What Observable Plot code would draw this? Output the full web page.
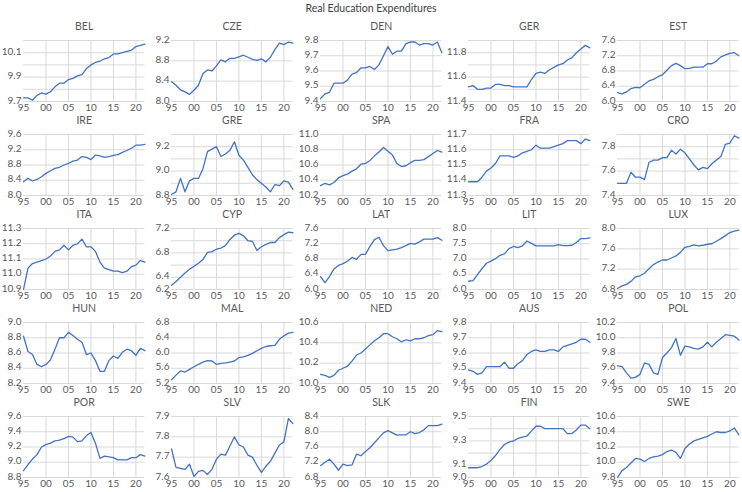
<!DOCTYPE html>
<html>
<head>
<meta charset="utf-8">
<script src="https://cdn.jsdelivr.net/npm/d3@7"></script>
<script src="https://cdn.jsdelivr.net/npm/@observablehq/plot@0.6"></script>
<style>
  body { margin: 0; background: #fff; font-family: Lato, "Open Sans", sans-serif; }
  #wrap { width: 742px; }
  h1 { margin: 0; height: 17px; line-height: 16px; font-size: 10.5px; font-weight: normal; text-align: center; color: #404040; }
  #grid { display: grid; grid-template-columns: repeat(5, 148.4px); }
  #grid svg { display: block; }
</style>
</head>
<body>
<div id="wrap">
  <h1>Real Education Expenditures</h1>
  <div id="grid"></div>
</div>
<script>
// Years on the horizontal axis
const years = [1995, 1996, 1997, 1998, 1999, 2000, 2001, 2002, 2003, 2004, 2005, 2006, 2007, 2008, 2009,
               2010, 2011, 2012, 2013, 2014, 2015, 2016, 2017, 2018, 2019, 2020, 2021, 2022];
const xTickYears = [1995, 2000, 2005, 2010, 2015, 2020];
const xGridYears = [2000, 2005, 2010, 2015, 2020];

// Country panels, in reading order
const codes = ["BEL", "CZE", "DEN", "GER", "EST",
               "IRE", "GRE", "SPA", "FRA", "CRO",
               "ITA", "CYP", "LAT", "LIT", "LUX",
               "HUN", "MAL", "NED", "AUS", "POL",
               "POR", "SLV", "SLK", "FIN", "SWE"];

// Log real education expenditure, 1995-2022
const bel = [9.73, 9.73, 9.71, 9.75, 9.77, 9.76, 9.78, 9.82, 9.85, 9.85, 9.88, 9.89, 9.91, 9.92, 9.97, 10.0, 10.02, 10.03, 10.05, 10.06, 10.09, 10.09, 10.10, 10.11, 10.12, 10.15, 10.16, 10.17];
const cze = [8.39, 8.32, 8.23, 8.19, 8.14, 8.22, 8.32, 8.55, 8.62, 8.60, 8.70, 8.82, 8.78, 8.85, 8.85, 8.88, 8.91, 8.87, 8.83, 8.81, 8.84, 8.78, 8.87, 9.02, 9.15, 9.12, 9.17, 9.15];
const den = [9.42, 9.45, 9.46, 9.52, 9.52, 9.52, 9.54, 9.58, 9.59, 9.62, 9.62, 9.63, 9.61, 9.64, 9.70, 9.76, 9.71, 9.73, 9.73, 9.78, 9.79, 9.79, 9.77, 9.78, 9.78, 9.77, 9.79, 9.72];
const ger = [11.52, 11.53, 11.50, 11.50, 11.51, 11.51, 11.54, 11.54, 11.53, 11.53, 11.52, 11.52, 11.52, 11.52, 11.58, 11.63, 11.64, 11.63, 11.66, 11.68, 11.70, 11.71, 11.74, 11.76, 11.80, 11.83, 11.86, 11.84];
const est = [6.23, 6.20, 6.25, 6.34, 6.37, 6.36, 6.45, 6.54, 6.58, 6.65, 6.70, 6.82, 6.94, 7.00, 6.94, 6.86, 6.87, 6.90, 6.90, 6.90, 6.99, 6.99, 7.06, 7.17, 7.22, 7.26, 7.28, 7.20];
const ire = [8.36, 8.45, 8.38, 8.42, 8.49, 8.58, 8.65, 8.71, 8.74, 8.80, 8.84, 8.90, 8.93, 9.02, 9.00, 8.94, 9.06, 9.04, 9.00, 9.02, 9.05, 9.07, 9.13, 9.18, 9.24, 9.32, 9.32, 9.34];
const gre = [8.81, 8.83, 8.94, 8.83, 8.92, 8.94, 8.94, 9.02, 9.16, 9.18, 9.20, 9.12, 9.14, 9.17, 9.24, 9.13, 9.09, 9.03, 8.97, 8.93, 8.90, 8.87, 8.83, 8.89, 8.88, 8.92, 8.91, 8.85];
const spa = [10.33, 10.36, 10.34, 10.37, 10.43, 10.46, 10.48, 10.52, 10.55, 10.61, 10.62, 10.66, 10.72, 10.77, 10.83, 10.78, 10.73, 10.62, 10.58, 10.59, 10.63, 10.66, 10.66, 10.67, 10.71, 10.75, 10.79, 10.77];
const fra = [11.39, 11.39, 11.39, 11.42, 11.46, 11.48, 11.51, 11.56, 11.56, 11.56, 11.55, 11.56, 11.58, 11.59, 11.60, 11.63, 11.61, 11.61, 11.61, 11.62, 11.63, 11.64, 11.66, 11.66, 11.66, 11.64, 11.67, 11.66];
const cro = [7.50, 7.50, 7.50, 7.59, 7.55, 7.55, 7.53, 7.67, 7.69, 7.69, 7.71, 7.71, 7.77, 7.74, 7.78, 7.75, 7.70, 7.65, 7.61, 7.63, 7.62, 7.66, 7.69, 7.72, 7.82, 7.83, 7.89, 7.87];
const ita = [10.90, 11.04, 11.07, 11.08, 11.09, 11.10, 11.12, 11.15, 11.16, 11.19, 11.16, 11.19, 11.20, 11.23, 11.18, 11.18, 11.15, 11.08, 11.04, 11.03, 11.02, 11.02, 11.01, 11.02, 11.05, 11.06, 11.09, 11.08];
const cyp = [6.27, 6.33, 6.40, 6.47, 6.53, 6.58, 6.63, 6.69, 6.81, 6.82, 6.86, 6.88, 6.92, 7.02, 7.09, 7.12, 7.08, 7.00, 6.99, 6.84, 6.90, 6.94, 6.97, 6.97, 7.05, 7.10, 7.14, 7.13];
const lat = [6.34, 6.18, 6.34, 6.54, 6.63, 6.68, 6.74, 6.84, 6.79, 6.92, 6.92, 7.13, 7.31, 7.37, 7.15, 7.02, 7.04, 7.06, 7.10, 7.15, 7.21, 7.19, 7.25, 7.32, 7.32, 7.32, 7.36, 7.29];
const lit = [6.27, 6.29, 6.49, 6.68, 6.86, 6.93, 7.01, 7.12, 7.17, 7.34, 7.41, 7.37, 7.43, 7.59, 7.51, 7.43, 7.43, 7.43, 7.43, 7.43, 7.47, 7.44, 7.44, 7.45, 7.54, 7.67, 7.67, 7.69];
const lux = [6.82, 6.87, 6.90, 6.96, 7.05, 7.07, 7.12, 7.21, 7.29, 7.34, 7.38, 7.38, 7.42, 7.46, 7.53, 7.63, 7.65, 7.68, 7.66, 7.67, 7.69, 7.70, 7.75, 7.80, 7.86, 7.92, 7.95, 7.97];
const hun = [8.82, 8.62, 8.58, 8.45, 8.42, 8.45, 8.51, 8.65, 8.80, 8.80, 8.87, 8.83, 8.78, 8.74, 8.58, 8.60, 8.50, 8.36, 8.36, 8.50, 8.56, 8.53, 8.61, 8.65, 8.63, 8.57, 8.66, 8.63];
const mal = [5.30, 5.42, 5.53, 5.50, 5.57, 5.64, 5.70, 5.76, 5.80, 5.79, 5.70, 5.73, 5.74, 5.76, 5.79, 5.88, 5.90, 5.94, 5.99, 6.06, 6.12, 6.17, 6.19, 6.20, 6.36, 6.45, 6.52, 6.54];
const ned = [10.09, 10.08, 10.06, 10.08, 10.13, 10.15, 10.17, 10.22, 10.28, 10.30, 10.34, 10.38, 10.42, 10.45, 10.49, 10.49, 10.46, 10.44, 10.41, 10.43, 10.42, 10.44, 10.44, 10.45, 10.47, 10.48, 10.52, 10.51];
const aus = [9.49, 9.48, 9.46, 9.47, 9.51, 9.51, 9.51, 9.51, 9.54, 9.50, 9.50, 9.53, 9.55, 9.59, 9.61, 9.62, 9.61, 9.61, 9.62, 9.62, 9.61, 9.64, 9.65, 9.66, 9.67, 9.69, 9.69, 9.67];
const pol = [9.63, 9.62, 9.54, 9.47, 9.48, 9.52, 9.67, 9.65, 9.54, 9.52, 9.74, 9.80, 9.87, 9.99, 9.77, 9.89, 9.88, 9.86, 9.85, 9.88, 9.94, 9.88, 9.94, 9.99, 10.04, 10.03, 10.02, 9.97];
const por = [8.89, 8.97, 9.04, 9.10, 9.20, 9.23, 9.25, 9.28, 9.29, 9.31, 9.34, 9.33, 9.27, 9.28, 9.35, 9.39, 9.25, 9.05, 9.08, 9.07, 9.06, 9.03, 9.03, 9.03, 9.06, 9.06, 9.10, 9.08];
const slv = [7.74, 7.65, 7.645, 7.64, 7.665, 7.605, 7.63, 7.635, 7.615, 7.64, 7.69, 7.715, 7.71, 7.755, 7.80, 7.76, 7.75, 7.71, 7.70, 7.66, 7.625, 7.655, 7.68, 7.72, 7.76, 7.775, 7.89, 7.865];
const slk = [7.11, 7.20, 7.28, 7.15, 6.99, 7.15, 7.11, 7.13, 7.41, 7.37, 7.48, 7.58, 7.71, 7.84, 7.97, 8.03, 7.97, 7.91, 7.92, 7.92, 8.00, 7.95, 7.98, 8.05, 8.16, 8.16, 8.16, 8.20];
const fin = [9.08, 9.08, 9.08, 9.09, 9.11, 9.14, 9.18, 9.23, 9.27, 9.29, 9.30, 9.32, 9.33, 9.34, 9.38, 9.42, 9.42, 9.40, 9.40, 9.40, 9.40, 9.40, 9.36, 9.36, 9.39, 9.43, 9.43, 9.40];
const swe = [9.80, 9.89, 9.93, 9.99, 10.05, 10.04, 10.01, 10.05, 10.07, 10.08, 10.10, 10.14, 10.16, 10.13, 10.05, 10.18, 10.24, 10.28, 10.30, 10.32, 10.34, 10.37, 10.40, 10.39, 10.39, 10.41, 10.45, 10.36];

const series = [bel, cze, den, ger, est, ire, gre, spa, fra, cro, ita, cyp, lat, lit, lux,
                hun, mal, ned, aus, pol, por, slv, slk, fin, swe];

// Vertical axis bounds, gridline spacing and labelled ticks for each panel
const yMin  = [9.7, 8.0, 9.4, 11.4, 6.0,  8.0, 8.8, 10.2, 11.3, 7.4,  10.9, 6.2, 6.0, 6.0, 6.8,  8.2, 5.2, 10.0, 9.4, 9.4,  8.8, 7.6, 6.8, 9.0, 9.8];
const yMax  = [10.2, 9.2, 9.8, 11.9, 7.6, 9.6, 9.3, 11.0, 11.7, 7.9, 11.3, 7.2, 7.6, 8.0, 8.0,  9.0, 6.8, 10.6, 9.8, 10.2, 9.6, 7.9, 8.4, 9.5, 10.6];
const yStep = [0.1, 0.4, 0.1, 0.1, 0.4,  0.4, 0.1, 0.2, 0.1, 0.1,  0.1, 0.2, 0.4, 0.5, 0.4,  0.2, 0.4, 0.2, 0.1, 0.2,  0.2, 0.1, 0.4, 0.1, 0.2];
const yLabels = [
  [9.7, 9.9, 10.1], [8.0, 8.4, 8.8, 9.2], [9.4, 9.5, 9.6, 9.7, 9.8], [11.4, 11.6, 11.8], [6.0, 6.4, 6.8, 7.2, 7.6],
  [8.0, 8.4, 8.8, 9.2, 9.6], [8.8, 9.0, 9.2], [10.2, 10.4, 10.6, 10.8, 11.0], [11.3, 11.4, 11.5, 11.6, 11.7], [7.4, 7.6, 7.8],
  [10.9, 11.0, 11.1, 11.2, 11.3], [6.2, 6.4, 6.8, 7.2], [6.0, 6.4, 6.8, 7.2, 7.6], [6.0, 6.5, 7.0, 7.5, 8.0], [6.8, 7.2, 7.6, 8.0],
  [8.2, 8.4, 8.6, 8.8, 9.0], [5.2, 5.6, 6.0, 6.4, 6.8], [10.0, 10.2, 10.4, 10.6], [9.4, 9.5, 9.6, 9.7, 9.8], [9.4, 9.6, 9.8, 10.0, 10.2],
  [8.8, 9.0, 9.2, 9.4, 9.6], [7.6, 7.7, 7.8, 7.9], [6.8, 7.2, 7.6, 8.0, 8.4], [9.0, 9.1, 9.3, 9.5], [9.8, 10.0, 10.2, 10.4, 10.6]
];

const lineColor = "#4472C4";
const gridColor = "#D9D9D9";
const textColor = "#595959";
const twoDigitYear = d => String(d % 100).padStart(2, "0");

const gridEl = document.getElementById("grid");

codes.forEach((code, k) => {
  const rows = years.map((year, i) => ({year, value: series[k][i]}));
  // horizontal gridlines at every step across the axis range
  const nSteps = Math.round((yMax[k] - yMin[k]) / yStep[k]);
  const hGrid = d3.range(1, nSteps + 1).map(j => +(yMin[k] + j * yStep[k]).toFixed(2));

  const chart = Plot.plot({
    width: 148.4,
    height: 94,
    marginTop: 23,
    marginBottom: 10,
    marginLeft: 23,
    marginRight: 4,
    style: {fontFamily: "Lato, 'Open Sans', sans-serif", fontSize: "10px", color: textColor, background: "#fff", overflow: "visible"},
    x: {domain: [1995, 2022]},
    y: {domain: [yMin[k], yMax[k]]},
    marks: [
      Plot.gridY(hGrid, {stroke: gridColor, strokeOpacity: 1, strokeWidth: 1}),
      Plot.gridX(xGridYears, {stroke: gridColor, strokeOpacity: 1, strokeWidth: 1}),
      Plot.ruleY([yMin[k]], {stroke: gridColor, strokeWidth: 1}),
      Plot.axisY(yLabels[k], {tickSize: 0, tickPadding: 2, dy: -1, tickFormat: d => d.toFixed(1), label: null}),
      Plot.axisX(xTickYears, {tickSize: 0, tickPadding: 2, tickFormat: twoDigitYear, label: null}),
      Plot.line(rows, {x: "year", y: "value", stroke: lineColor, strokeWidth: 1.3}),
      Plot.text([code], {frameAnchor: "top", lineAnchor: "middle", dy: -14, fontSize: 10.5, fill: textColor})
    ]
  });
  gridEl.appendChild(chart);
});
</script>
</body>
</html>
